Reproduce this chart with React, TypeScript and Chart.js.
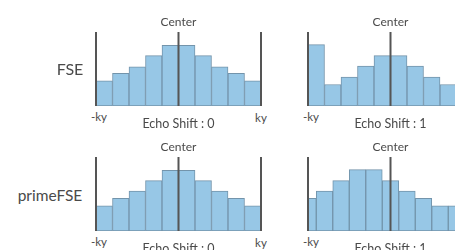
import React, { useEffect, useRef } from "react";
import { Chart, registerables } from "chart.js";

Chart.register(...registerables);

// bin centres along ky (in bin units, left axis = 0, right axis = 10)
const kyBins = [0.5, 1.5, 2.5, 3.5, 4.5, 5.5, 6.5, 7.5, 8.5, 9.5];
const kyBinsHalf = [0, 1, 2, 3, 4, 5, 6, 7, 8, 9, 10];

// signal amplitude per bin (0..100)
const fseShift0 = [34, 44, 53, 68, 82, 82, 68, 53, 44, 34];
const fseShift1 = [83, 29, 39, 54, 68, 68, 54, 39, 29, 20];
const primeShift0 = [34, 44, 54, 68, 82, 82, 68, 54, 44, 34];
const primeShift1 = [44, 54, 68, 83, 83, 68, 54, 44, 34, 34, 44];

const rowLabels = ["FSE", "primeFSE"];
const shiftLabels = ["Echo Shift : 0", "Echo Shift : 1"];
const axisMin = 0;
const axisMax = 10;
const axisCenter = 5;

const FILL = "#97c7e6";
const EDGE = "#7394ab";
const LINE = "#555555";
const TEXT = "#4a4a4a";
const FONT = "Lato, 'Open Sans', sans-serif";

const PAD = 4;
const AREA_W = 165;
const AREA_H = 74;

type PanelProps = {
  left: number;
  top: number;
  xs: number[];
  ys: number[];
};

const linesPlugin = {
  id: "kyLines",
  afterDatasetsDraw(chart: any) {
    const { ctx, chartArea, scales } = chart;
    const x = scales.x;
    ctx.save();
    ctx.strokeStyle = LINE;
    ctx.lineWidth = 2;
    [axisMin, axisMax, axisCenter].forEach((v) => {
      const px = x.getPixelForValue(v);
      ctx.beginPath();
      ctx.moveTo(px, chartArea.top);
      ctx.lineTo(px, chartArea.bottom);
      ctx.stroke();
    });
    ctx.restore();
  },
};

function Panel({ left, top, xs, ys }: PanelProps) {
  const ref = useRef<HTMLCanvasElement>(null);
  useEffect(() => {
    if (!ref.current) return;
    const chart = new Chart(ref.current, {
      type: "bar",
      data: {
        datasets: [
          {
            data: xs.map((x, i) => ({ x, y: ys[i] })),
            backgroundColor: FILL,
            borderColor: EDGE,
            borderWidth: 1,
            borderSkipped: false,
            barPercentage: 1,
            categoryPercentage: 1,
            clip: 0,
          } as any,
        ],
      },
      options: {
        responsive: false,
        animation: false,
        layout: { padding: PAD },
        plugins: { legend: { display: false }, tooltip: { enabled: false } },
        scales: {
          x: {
            type: "linear",
            min: axisMin,
            max: axisMax,
            offset: false,
            display: false,
            ticks: { stepSize: 1 },
          },
          y: { type: "linear", min: 0, max: 100, display: false },
        },
      },
      plugins: [linesPlugin],
    });
    return () => chart.destroy();
  }, []);
  return (
    <canvas
      ref={ref}
      width={AREA_W + 2 * PAD}
      height={AREA_H + 2 * PAD}
      style={{
        position: "absolute",
        left: left - PAD,
        top: top - PAD,
        width: AREA_W + 2 * PAD,
        height: AREA_H + 2 * PAD,
      }}
    />
  );
}

function Label({ x, y, size, text }: { x: number; y: number; size: number; text: string }) {
  return (
    <div
      style={{
        position: "absolute",
        left: x,
        top: y,
        transform: "translate(-50%, -50%)",
        fontSize: size,
        fontFamily: FONT,
        color: TEXT,
        whiteSpace: "nowrap",
        lineHeight: 1,
      }}
    >
      {text}
    </div>
  );
}

export default function App() {
  const cols = [96, 308];
  const rows = [32, 157];
  const panels = [
    { xs: kyBins, ys: fseShift0 },
    { xs: kyBins, ys: fseShift1 },
    { xs: kyBins, ys: primeShift0 },
    { xs: kyBinsHalf, ys: primeShift1 },
  ];
  return (
    <div
      style={{
        position: "absolute",
        left: 0,
        top: 0,
        width: 455,
        height: 250,
        overflow: "hidden",
        background: "#ffffff",
      }}
    >
      {panels.map((p, i) => {
        const c = i % 2;
        const r = Math.floor(i / 2);
        const left = cols[c];
        const top = rows[r];
        const cx = left + AREA_W / 2;
        return (
          <React.Fragment key={i}>
            <Panel left={left} top={top} xs={p.xs} ys={p.ys} />
            <Label x={cx} y={top - 10} size={12} text="Center" />
            <Label x={left + 3} y={top + 85} size={11.5} text="-ky" />
            <Label x={left + AREA_W} y={top + 86} size={11.5} text="ky" />
            <Label x={cx} y={top + 92} size={12.5} text={shiftLabels[c]} />
          </React.Fragment>
        );
      })}
      <Label x={70} y={69} size={16} text={rowLabels[0]} />
      <Label x={50} y={196} size={15.5} text={rowLabels[1]} />
    </div>
  );
}
